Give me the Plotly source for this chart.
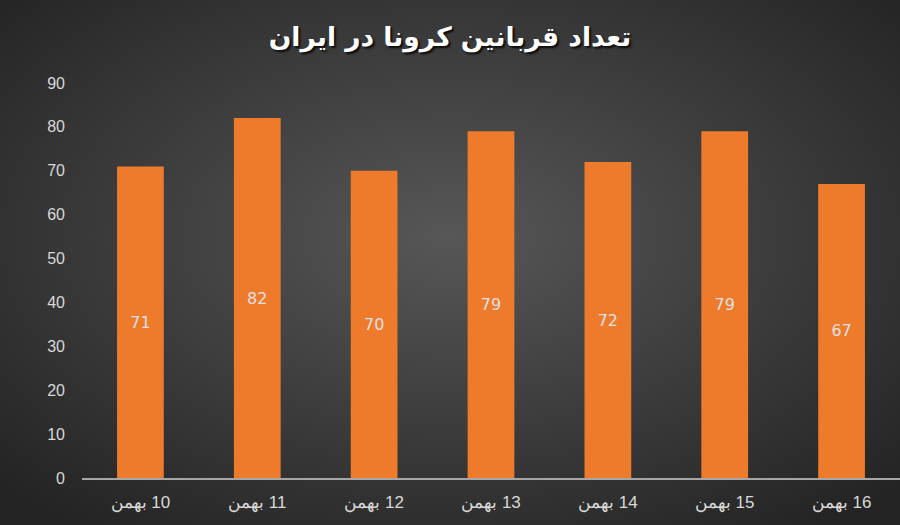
import base64

import plotly.graph_objects as go

# data
categories = ["10 بهمن", "11 بهمن", "12 بهمن", "13 بهمن", "14 بهمن", "15 بهمن", "16 بهمن"]
deaths = [71, 82, 70, 79, 72, 79, 67]
y_ticks = [0, 10, 20, 30, 40, 50, 60, 70, 80, 90]
title_text = "تعداد قربانین کرونا در ایران"

# RLM in front so the day number sits on the right like in the original
x_labels = ["\u200f" + c for c in categories]

# dark radial background, done as an svg image behind the plot
bg_svg = """<svg xmlns='http://www.w3.org/2000/svg' width='900' height='525' viewBox='0 0 900 525' preserveAspectRatio='none'>
<defs><radialGradient id='g' cx='50%' cy='45%' r='70%'>
<stop offset='0%' stop-color='#575757'/><stop offset='100%' stop-color='#232323'/>
</radialGradient></defs>
<rect width='900' height='525' fill='url(#g)'/></svg>"""
bg_uri = "data:image/svg+xml;base64," + base64.b64encode(bg_svg.encode("utf-8")).decode("ascii")

bars = go.Bar(
    x=x_labels,
    y=deaths,
    text=[str(v) for v in deaths],
    textposition="inside",
    insidetextanchor="middle",
    textfont=dict(family="DejaVu Sans", size=16, color="#e0e0e0"),
    marker=dict(color="#EE7A2C", line=dict(width=0)),
    hoverinfo="x+y",
)

fig = go.Figure(bars)
fig.update_layout(
    width=900,
    height=525,
    margin=dict(l=82, r=0, t=83, b=47),
    paper_bgcolor="#333333",
    plot_bgcolor="rgba(0,0,0,0)",
    bargap=0.6,
    showlegend=False,
    title=dict(
        text="<b>" + title_text + "</b>",
        x=0.5,
        xanchor="center",
        y=0.93,
        yanchor="middle",
        font=dict(family="DejaVu Sans", size=26.5, color="#ffffff",
                  shadow="2px 2px 2px rgba(0,0,0,0.8)"),
    ),
    images=[dict(
        source=bg_uri,
        xref="paper", yref="paper",
        x=-82 / 818, y=1 + 83 / 395, xanchor="left", yanchor="top",
        sizex=900 / 818, sizey=525 / 395,
        sizing="stretch",
        layer="below",
    )],
    uniformtext=dict(mode="show", minsize=10),
)

fig.update_xaxes(
    showgrid=False,
    showline=True,
    linecolor="#a6a6a6",
    linewidth=2,
    ticks="",
    ticklabelstandoff=8,
    tickfont=dict(family="Liberation Sans", size=17, color="#d9d9d9"),
    range=[-0.5, 6.5],
)
fig.update_yaxes(
    range=[0, 90],
    tickvals=y_ticks,
    showgrid=False,
    zeroline=False,
    ticks="",
    ticklabelstandoff=16,
    tickfont=dict(family="Liberation Sans", size=16, color="#d9d9d9"),
)

# drop the browser's default body margin so the chart fills the window
fig.write_html("out.html", config={"displayModeBar": False},
               post_script="document.body.style.margin='0';")
